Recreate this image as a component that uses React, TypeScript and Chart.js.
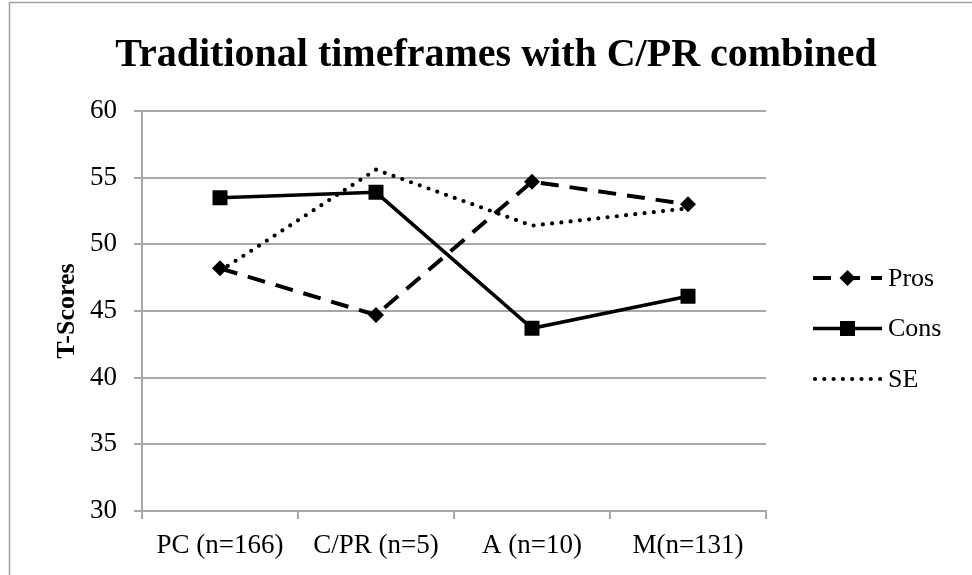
import React, { useEffect, useRef } from "react";
import { Chart, registerables } from "chart.js";

Chart.register(...registerables);

const categories = ["PC (n=166)", "C/PR (n=5)", "A (n=10)", "M(n=131)"];
const prosValues = [48.2, 44.7, 54.7, 53.0];
const consValues = [53.5, 53.9, 43.7, 46.1];
const seValues = [48.0, 55.6, 51.4, 52.7];
const seriesNames = ["Pros", "Cons", "SE"];
const yMin = 30;
const yMax = 60;
const yStep = 5;
const titleText = "Traditional timeframes with C/PR combined";
const yAxisTitle = "T-Scores";

const FONT = "'Liberation Serif', 'Times New Roman', serif";
const GRID = "#a8a8a8";

const framePlugin = {
  id: "frame",
  beforeDraw(chart: any) {
    const ctx = chart.ctx;
    ctx.save();
    ctx.fillStyle = "#ffffff";
    ctx.fillRect(0, 0, chart.width, chart.height);
    ctx.strokeStyle = "#a0a0a0";
    ctx.lineWidth = 1.5;
    ctx.beginPath();
    ctx.moveTo(9.5, chart.height);
    ctx.lineTo(9.5, 2.5);
    ctx.lineTo(chart.width, 2.5);
    ctx.stroke();
    ctx.restore();
  },
};

const titlePlugin = {
  id: "customTitle",
  afterDraw(chart: any) {
    const ctx = chart.ctx;
    ctx.save();
    ctx.fillStyle = "#000";
    ctx.font = `bold 40px ${FONT}`;
    ctx.textAlign = "center";
    ctx.textBaseline = "alphabetic";
    ctx.fillText(titleText, 496, 66);
    ctx.restore();
  },
};

const legendPlugin = {
  id: "customLegend",
  afterDraw(chart: any) {
    const ctx = chart.ctx;
    const x0 = 813;
    const x1 = 882;
    const xm = (x0 + x1) / 2;
    chart.data.datasets.forEach((ds: any, i: number) => {
      const y = 278 + i * 50.5;
      ctx.save();
      ctx.strokeStyle = ds.borderColor;
      ctx.lineWidth = ds.borderWidth;
      ctx.setLineDash(ds.borderDash || []);
      ctx.lineCap = ds.borderCapStyle || "butt";
      ctx.beginPath();
      ctx.moveTo(x0 + (ds.borderCapStyle === "round" ? 2 : 0), y);
      ctx.lineTo(x1, y);
      ctx.stroke();
      ctx.setLineDash([]);
      ctx.fillStyle = "#000";
      if (ds.pointStyle === "rectRot") {
        const r = ds.pointRadius;
        ctx.beginPath();
        ctx.moveTo(xm - r, y);
        ctx.lineTo(xm, y - r);
        ctx.lineTo(xm + r, y);
        ctx.lineTo(xm, y + r);
        ctx.closePath();
        ctx.fill();
      } else if (ds.pointStyle === "rect" && ds.pointRadius > 0) {
        const s = ds.pointRadius * Math.SQRT1_2;
        ctx.fillRect(xm - s, y - s, 2 * s, 2 * s);
      }
      ctx.font = `26px ${FONT}`;
      ctx.textAlign = "left";
      ctx.textBaseline = "middle";
      ctx.fillText(ds.label, 888, y + 1);
      ctx.restore();
    });
  },
};

export default function App() {
  const ref = useRef<HTMLCanvasElement>(null);
  useEffect(() => {
    if (!ref.current) return;
    const chart = new Chart(ref.current, {
      type: "line",
      data: {
        labels: categories,
        datasets: [
          {
            label: seriesNames[0],
            data: prosValues,
            borderColor: "#000",
            backgroundColor: "#000",
            borderWidth: 4,
            borderDash: [18, 11],
            pointStyle: "rectRot",
            pointRadius: 8,
            pointBorderWidth: 0,
            pointBackgroundColor: "#000",
            tension: 0,
            order: 2,
          },
          {
            label: seriesNames[1],
            data: consValues,
            borderColor: "#000",
            backgroundColor: "#000",
            borderWidth: 3.5,
            pointStyle: "rect",
            pointRadius: 10.6,
            pointBorderWidth: 0,
            pointBackgroundColor: "#000",
            tension: 0,
            order: 1,
          },
          {
            label: seriesNames[2],
            data: seValues,
            borderColor: "#000",
            backgroundColor: "#000",
            borderWidth: 4.2,
            borderDash: [0, 9.3],
            borderCapStyle: "round",
            pointRadius: 0,
            tension: 0,
            order: 3,
          },
        ] as any,
      },
      options: {
        animation: false,
        responsive: false,
        maintainAspectRatio: false,
        layout: { padding: { left: 48, top: 111, right: 206, bottom: 0 } },
        plugins: {
          legend: { display: false },
          title: { display: false },
          tooltip: { enabled: false },
        },
        scales: {
          x: {
            type: "category",
            offset: true,
            grid: {
              display: true,
              drawOnChartArea: false,
              drawTicks: true,
              tickLength: 8,
              offset: true,
              color: GRID,
              lineWidth: 2,
            },
            border: { color: GRID, width: 2 },
            ticks: {
              color: "#000",
              font: { family: FONT, size: 27 },
              padding: 11,
              maxRotation: 0,
              autoSkip: false,
            },
            afterFit: (scale: any) => {
              scale.height = 64;
            },
          },
          y: {
            min: yMin,
            max: yMax,
            ticks: {
              stepSize: yStep,
              color: "#000",
              font: { family: FONT, size: 27 },
              padding: 17,
            },
            grid: {
              color: GRID,
              lineWidth: 2,
              tickLength: 8,
              drawTicks: true,
            },
            border: { color: GRID, width: 2 },
            title: {
              display: true,
              text: yAxisTitle,
              color: "#000",
              font: { family: FONT, size: 26, weight: "bold" },
            },
            afterFit: (scale: any) => {
              scale.width = 94;
            },
          },
        },
      } as any,
      plugins: [framePlugin, titlePlugin, legendPlugin],
    });
    return () => chart.destroy();
  }, []);
  return (
    <div style={{ position: "fixed", left: 0, top: 0, width: 972, height: 575, background: "#fff" }}>
      <canvas ref={ref} width={972} height={575} style={{ display: "block", width: 972, height: 575 }} />
    </div>
  );
}
